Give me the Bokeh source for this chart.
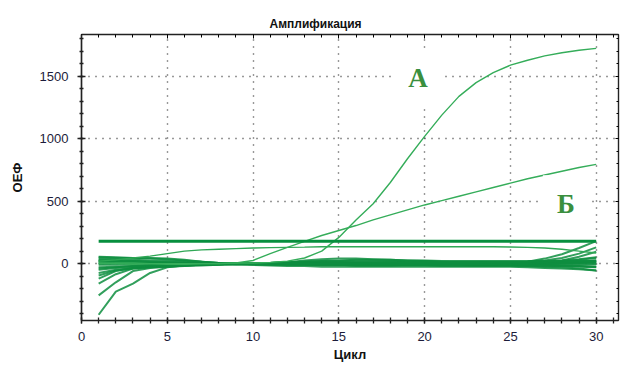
from bokeh.plotting import figure
from bokeh.models import LinearAxis, Range1d, Label, SingleIntervalTicker
from bokeh.embed import file_html
from bokeh.resources import INLINE

# ---------------- data ----------------
cycles = [1, 2, 3, 4, 5, 6, 7, 8, 9, 10, 11, 12, 13, 14, 15,
          16, 17, 18, 19, 20, 21, 22, 23, 24, 25, 26, 27, 28, 29, 30]

curve_a = [5, 0, -5, 0, 0, 0, 0, 0, 5, 5, 10, 20, 45, 100, 210,
           350, 480, 650, 840, 1020, 1190, 1340, 1450, 1530, 1590, 1630, 1665, 1690, 1710, 1725]
curve_b = [0, 5, 5, 0, -5, -5, 0, 0, 5, 25, 80, 130, 178, 225, 265,
           305, 350, 390, 430, 470, 505, 540, 575, 610, 645, 680, 710, 740, 770, 795]
curve_c = [20, 30, 45, 60, 80, 100, 110, 115, 120, 125, 128, 130, 132, 135, 135,
           135, 135, 135, 135, 135, 135, 135, 135, 135, 133, 130, 125, 115, 100, 85]
threshold = [180] * 30

base_01 = [-410, -225, -160, -75, -30, -15, -5, 0, 5, 5, 0, -5, -5, -5, -10, -10, -10, -5, -5, -5, -5, -5, -10, -10, -10, -5, -5, 0, 5, 10]
base_02 = [-255, -150, -60, -35, -25, -15, -10, -5, 0, 5, 5, 0, 0, -5, -5, -5, -10, -10, -10, -10, -10, -5, -5, -10, -10, -10, -10, -15, -20, -25]
base_03 = [-160, -85, -40, -25, -15, -10, -5, 0, 0, 0, -5, -5, -10, -10, -10, -15, -15, -15, -10, -10, -10, -10, -15, -15, -15, -20, -25, -30, -40, -55]
base_04 = [-120, -60, -35, -25, -20, -15, -10, -5, 0, 0, 0, 5, 5, 5, 0, 0, 0, 5, 5, 5, 0, 0, 0, 0, 5, 5, 10, 15, 20, 25]
base_05 = [-95, -55, -40, -30, -20, -15, -10, -5, -5, -5, -10, -10, -10, -10, -10, -15, -15, -15, -15, -15, -20, -20, -20, -20, -20, -20, -20, -20, -25, -30]
base_06 = [-75, -50, -35, -30, -25, -20, -15, -10, -5, 0, 0, 0, -5, -5, -5, -5, -5, -5, -5, 0, 0, 0, 0, 0, 0, 0, 5, 5, 10, 15]
base_07 = [-50, -35, -25, -20, -15, -10, -5, -5, -5, -5, -5, -10, -10, -10, -10, -10, -10, -5, -5, -5, -5, -5, -10, -10, -10, -15, -15, -20, -20, -25]
base_08 = [-30, -25, -20, -15, -10, -10, -5, -5, 0, 0, 0, 0, 0, 5, 5, 5, 5, 0, 0, 0, 0, 0, 0, 0, 0, 0, 5, 15, 30, 45]
base_09 = [-10, -10, -5, -5, -5, -5, -5, 0, 0, 5, 5, 10, 10, 10, 10, 10, 10, 10, 10, 10, 10, 10, 5, 5, 5, 5, 5, 10, 15, 25]
base_10 = [10, 10, 5, 5, 5, 0, 0, 0, 0, -5, -5, -5, -5, -5, 0, 0, 0, 0, 0, 0, 0, -5, -5, -5, -5, -5, -5, -5, -5, -5]
base_11 = [25, 20, 20, 15, 15, 10, 5, 0, 0, 0, 5, 10, 15, 15, 15, 15, 15, 15, 10, 10, 10, 10, 10, 10, 10, 10, 10, 10, 10, 10]
base_12 = [40, 35, 30, 25, 25, 20, 15, 5, 0, 0, 5, 10, 15, 20, 20, 25, 25, 20, 20, 20, 15, 15, 15, 15, 15, 15, 20, 25, 35, 50]
base_13 = [55, 50, 45, 40, 35, 25, 15, 5, 0, 0, 5, 10, 15, 20, 25, 30, 30, 30, 25, 25, 20, 20, 20, 20, 20, 20, 20, 20, 20, 20]
base_14 = [50, 45, 45, 45, 40, 30, 15, 5, -5, -5, 0, 10, 25, 35, 40, 40, 35, 30, 25, 20, 15, 10, 10, 5, 5, 5, 0, 0, 0, 0]
base_15 = [30, 25, 20, 15, 10, 5, 0, 0, 0, -5, -5, -5, -10, -10, -10, -10, -10, -10, -10, -10, -5, -5, -5, -5, 0, 15, 40, 75, 125, 180]
base_16 = [0, 5, 5, 5, 5, 0, 0, 0, 0, 0, 0, 0, 0, 0, 0, 0, 0, 0, 0, 0, 0, 0, 0, 0, 5, 5, 10, 25, 55, 95]
base_17 = [20, 15, 10, 5, 0, 0, 0, -5, -5, -10, -15, -20, -20, -25, -25, -25, -25, -25, -25, -25, -25, -25, -25, -25, -25, -30, -35, -40, -45, -55]
base_18 = [-40, -30, -20, -15, -10, -10, -5, -5, 0, 0, 0, 0, 0, 0, 0, 0, 5, 5, 5, 5, 5, 5, 5, 10, 10, 15, 25, 45, 80, 130]

x_ticks = [0, 5, 10, 15, 20, 25, 30]
y_ticks = [0, 500, 1000, 1500]

# ---------------- figure ----------------
p = figure(width=620, height=365, output_backend="svg", toolbar_location=None,
           x_range=Range1d(0, 31.3), y_range=Range1d(-456, 1836),
           min_border_left=81, min_border_top=34, min_border_bottom=45,
           min_border_right=2, background_fill_color="white",
           border_fill_color="white", outline_line_color="#222222",
           outline_line_width=1.2)

p.title.text = "Амплификация"
p.title.text_font = "Liberation Sans"
p.title.text_font_size = "12px"
p.title.text_font_style = "bold"
p.title.align = "left"
p.title.offset = 188
p.title.standoff = 8
p.title.text_color = "#111111"

tick_color = "#1c1c3a"
for ax in (p.xaxis[0], p.yaxis[0]):
    ax.axis_line_color = "#222222"
    ax.axis_line_width = 1.5
    ax.major_tick_line_color = "#222222"
    ax.minor_tick_line_color = "#222222"
    ax.major_tick_line_width = 1.3
    ax.minor_tick_line_width = 1.3
    ax.major_label_text_font = "Liberation Sans"
    ax.major_label_text_font_size = "13px"
    ax.major_label_text_color = tick_color
    ax.axis_label_text_font = "Liberation Sans"
    ax.axis_label_text_font_size = "13px"
    ax.axis_label_text_font_style = "bold"
    ax.axis_label_text_color = "#111111"

p.xaxis[0].ticker = SingleIntervalTicker(interval=5, num_minor_ticks=5)
p.yaxis[0].ticker = SingleIntervalTicker(interval=500, num_minor_ticks=5)
p.xaxis[0].major_tick_in = 3
p.xaxis[0].major_tick_out = 3
p.xaxis[0].minor_tick_in = 3
p.xaxis[0].minor_tick_out = 3
p.xaxis[0].major_label_standoff = 8
p.xaxis[0].axis_label = "Цикл"
p.xaxis[0].axis_label_standoff = 3

p.yaxis[0].major_tick_in = 4
p.yaxis[0].major_tick_out = 4
p.yaxis[0].minor_tick_in = 2
p.yaxis[0].minor_tick_out = 2
p.yaxis[0].major_label_standoff = 9
p.yaxis[0].axis_label = "ОЕФ"
p.yaxis[0].axis_label_standoff = 12

top_axis = LinearAxis(ticker=SingleIntervalTicker(interval=5, num_minor_ticks=5),
                      major_label_text_font_size="0px", major_tick_in=4,
                      major_tick_out=0, minor_tick_in=3, minor_tick_out=0,
                      axis_line_color="#222222", axis_line_width=1.5,
                      major_label_standoff=0, axis_label_standoff=0,
                      major_label_overrides={0: "", 5: "", 10: "", 15: "", 20: "", 25: "", 30: ""})
right_axis = LinearAxis(ticker=SingleIntervalTicker(interval=500, num_minor_ticks=5),
                        major_label_text_font_size="0px", major_tick_in=3,
                        major_tick_out=0, minor_tick_in=2, minor_tick_out=0,
                        axis_line_color="#222222", axis_line_width=1.2,
                        major_label_standoff=0, axis_label_standoff=0,
                        major_label_overrides={0: "", 500: "", 1000: "", 1500: ""})
p.add_layout(top_axis, "above")
p.add_layout(right_axis, "right")

p.xgrid.ticker = SingleIntervalTicker(interval=5)
p.ygrid.ticker = SingleIntervalTicker(interval=500)
for g in (p.xgrid[0], p.ygrid[0]):
    g.grid_line_color = "#333333"
    g.grid_line_dash = "1 6"
    g.grid_line_width = 1.4

# ---------------- curves ----------------
base_color = "#0e8e40"
for b in (base_01, base_02, base_03, base_04, base_05, base_06, base_07, base_08, base_09,
          base_10, base_11, base_12, base_13, base_14, base_15, base_16, base_17, base_18):
    p.line(cycles, b, line_color=base_color, line_width=2.0, line_alpha=0.85)

p.line(cycles, curve_c, line_color="#2fa755", line_width=1.4)
p.line(cycles, curve_b, line_color="#35ad5a", line_width=1.4)
p.line(cycles, curve_a, line_color="#35ad5a", line_width=1.4)
p.line(cycles, threshold, line_color="#078f3e", line_width=3)

lab_a = Label(x=19.62, y=1484, text="А", text_align="center", text_baseline="middle",
              text_font="Liberation Serif", text_font_style="bold", text_font_size="27px",
              text_color="#3a8f3e", background_fill_color="white", padding=14)
lab_b = Label(x=28.23, y=476, text="Б", text_align="center", text_baseline="middle",
              text_font="Liberation Serif", text_font_style="bold", text_font_size="27px",
              text_color="#3a8f3e", background_fill_color="white", padding=14)
p.add_layout(lab_a)
p.add_layout(lab_b)

open("out.html", "w").write(file_html(p, INLINE))
